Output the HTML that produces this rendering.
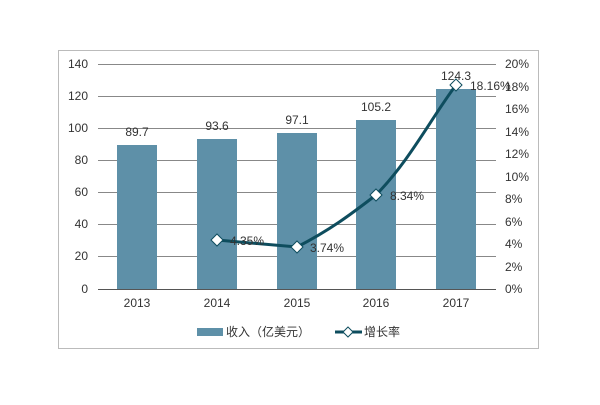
<!DOCTYPE html>
<html><head><meta charset="utf-8"><style>body{margin:0;background:#fff}</style></head><body>
<svg width="600" height="400" xmlns="http://www.w3.org/2000/svg" font-family="Liberation Sans, Noto Sans CJK SC, sans-serif" font-size="12" fill="#333">
<rect x="0" y="0" width="600" height="400" fill="#fff"/>
<rect x="58.5" y="50.5" width="480" height="298" fill="none" stroke="#bbb"/>
<g stroke="#888" stroke-width="1">
<line x1="98" y1="64.5" x2="496" y2="64.5"/><line x1="98" y1="96.5" x2="496" y2="96.5"/><line x1="98" y1="128.5" x2="496" y2="128.5"/><line x1="98" y1="160.5" x2="496" y2="160.5"/><line x1="98" y1="192.5" x2="496" y2="192.5"/><line x1="98" y1="224.5" x2="496" y2="224.5"/><line x1="98" y1="256.5" x2="496" y2="256.5"/>
</g>
<g fill="#5e90a8">
<rect x="117" y="145" width="40" height="144"/>
<rect x="197" y="139" width="40" height="150"/>
<rect x="277" y="133" width="40" height="156"/>
<rect x="356" y="120" width="40" height="169"/>
<rect x="436" y="89" width="40" height="200"/>
</g>
<line x1="98" y1="289.5" x2="496" y2="289.5" stroke="#555"/>
<g text-anchor="end"><text x="88" y="68">140</text><text x="88" y="100">120</text><text x="88" y="132">100</text><text x="88" y="164">80</text><text x="88" y="196">60</text><text x="88" y="228">40</text><text x="88" y="260">20</text><text x="88" y="293">0</text></g>
<g><text x="505" y="68">20%</text><text x="505" y="91">18%</text><text x="505" y="113">16%</text><text x="505" y="136">14%</text><text x="505" y="158">12%</text><text x="505" y="181">10%</text><text x="505" y="203">8%</text><text x="505" y="226">6%</text><text x="505" y="248">4%</text><text x="505" y="271">2%</text><text x="505" y="293">0%</text></g>
<g text-anchor="middle"><text x="137" y="307">2013</text><text x="217" y="307">2014</text><text x="297" y="307">2015</text><text x="376" y="307">2016</text><text x="456" y="307">2017</text>
<text x="137" y="136">89.7</text><text x="217" y="130">93.6</text><text x="297" y="124">97.1</text><text x="376" y="111">105.2</text><text x="456" y="80">124.3</text></g>
<path d="M217 240 L297 247 C330 230 350 215 376 195 C410 160 430 120 456 85" fill="none" stroke="#0e4d5e" stroke-width="3"/>
<g fill="#fff" stroke="#0e4d5e" stroke-width="1"><path d="M217 234 l6 6 l-6 6 l-6 -6z"/><path d="M297 241 l6 6 l-6 6 l-6 -6z"/><path d="M376 189 l6 6 l-6 6 l-6 -6z"/><path d="M456 79 l6 6 l-6 6 l-6 -6z"/></g>
<text x="230" y="245">4.35%</text><text x="310" y="252">3.74%</text><text x="390" y="200">8.34%</text><text x="470" y="90">18.16%</text>
<rect x="197" y="328" width="26" height="8" fill="#5e90a8"/><text x="226" y="336">收入（亿美元）</text>
<line x1="335" y1="332" x2="362" y2="332" stroke="#0e4d5e" stroke-width="3"/><path d="M348 327 l5 5 l-5 5 l-5 -5z" fill="#fff" stroke="#0e4d5e"/><text x="364" y="336">增长率</text>
</svg>
</body></html>
